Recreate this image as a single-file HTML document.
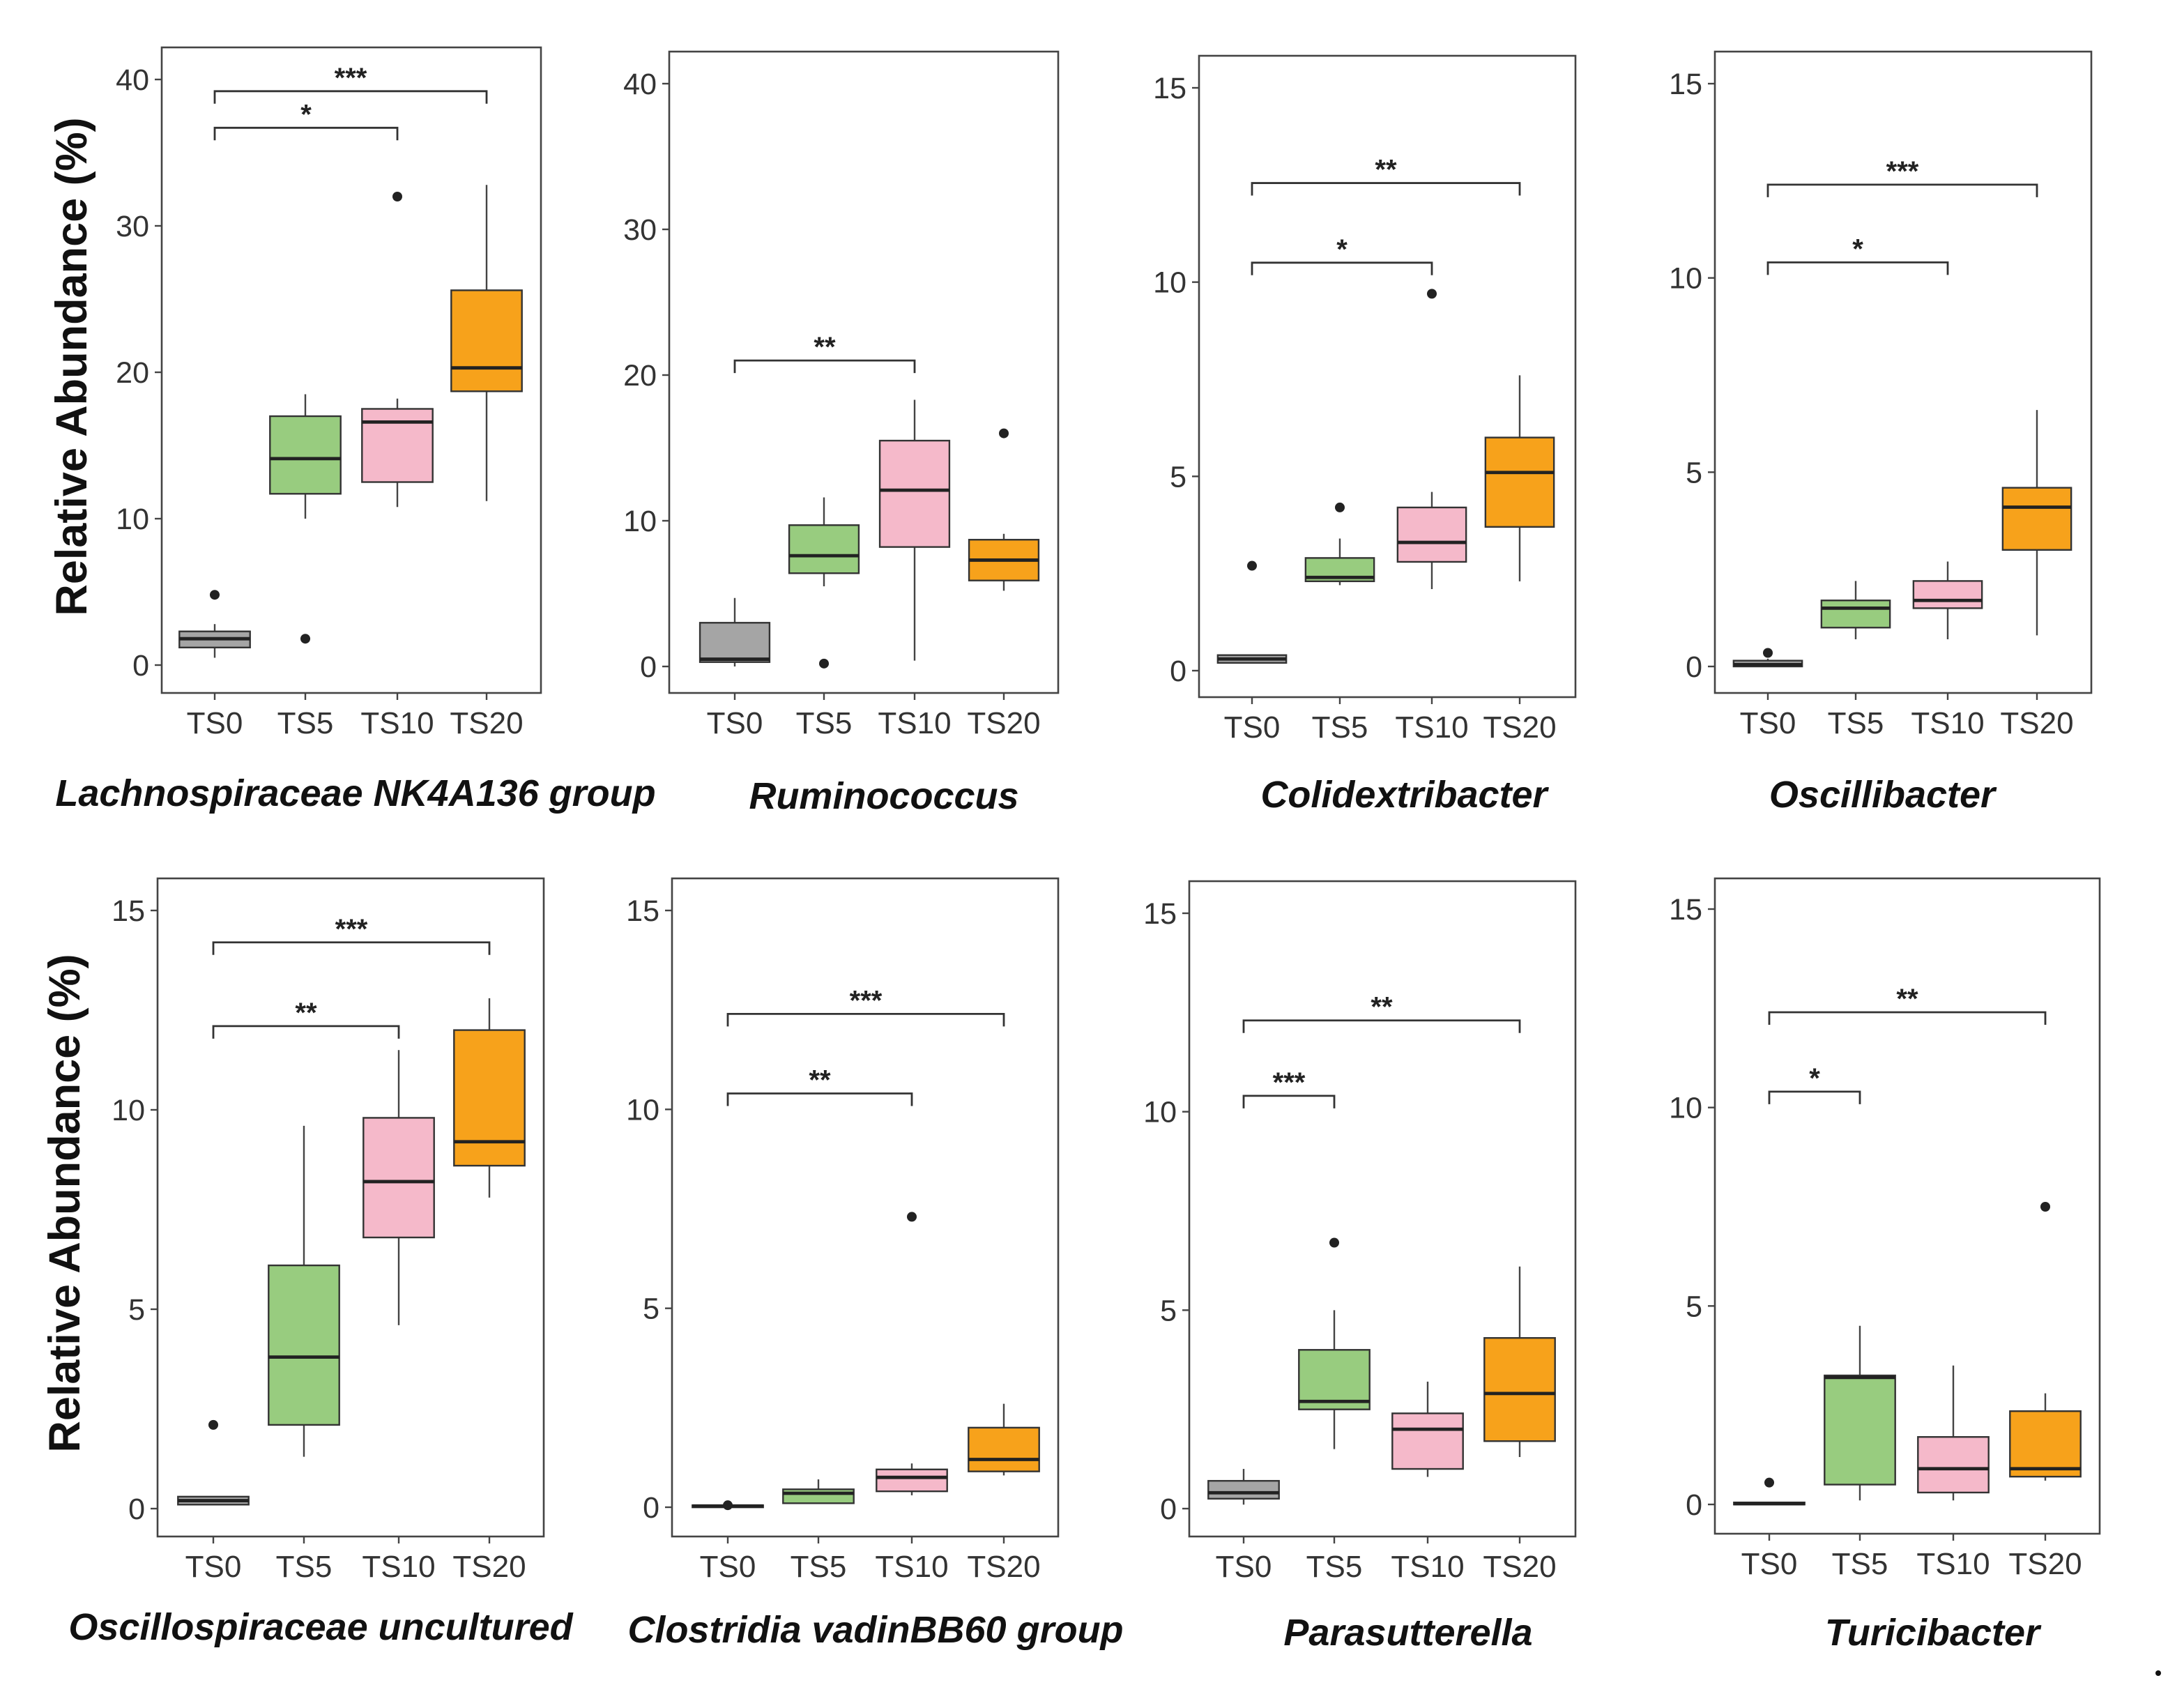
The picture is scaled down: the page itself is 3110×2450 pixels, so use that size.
<!DOCTYPE html>
<html><head><meta charset="utf-8">
<style>
html,body{margin:0;padding:0;background:#fff;}
svg{display:block;}
text{font-family:"Liberation Sans",Arial,sans-serif;}
</style></head>
<body>
<svg id="chart" width="3110" height="2450" viewBox="0 0 1555 1225" xmlns="http://www.w3.org/2000/svg">
<text transform="translate(62,263) rotate(-90)" text-anchor="middle" font-size="31.5" font-weight="bold" fill="#111">Relative Abundance (%)</text>
<text transform="translate(57,863) rotate(-90)" text-anchor="middle" font-size="31.5" font-weight="bold" fill="#111">Relative Abundance (%)</text>
<circle cx="1548" cy="1200" r="2" fill="#111"/>
</svg>
<script>
const categories = ["TS0","TS5","TS10","TS20"];
const panelTitles = ["Lachnospiraceae NK4A136 group","Ruminococcus","Colidextribacter","Oscillibacter","Oscillospiraceae uncultured","Clostridia vadinBB60 group","Parasutterella","Turicibacter"];
const yTickLabels = [[0,10,20,30,40],[0,10,20,30,40],[0,5,10,15],[0,5,10,15],[0,5,10,15],[0,5,10,15],[0,5,10,15],[0,5,10,15]];
const lowWhisker = [[0.5,10,10.8,11.2],[0,5.5,0.4,5.2],[0.2,2.2,2.1,2.3],[0,0.7,0.7,0.8],[0.1,1.3,4.6,7.8],[0,0.1,0.3,0.8],[0.1,1.5,0.8,1.3],[0,0.1,0.1,0.6]];
const q1Values = [[1.2,11.7,12.5,18.7],[0.3,6.4,8.2,5.9],[0.2,2.3,2.8,3.7],[0,1.0,1.5,3.0],[0.1,2.1,6.8,8.6],[0,0.1,0.4,0.9],[0.25,2.5,1.0,1.7],[0,0.5,0.3,0.7]];
const medianValues = [[1.8,14.1,16.6,20.3],[0.5,7.6,12.1,7.3],[0.3,2.4,3.3,5.1],[0.05,1.5,1.7,4.1],[0.2,3.8,8.2,9.2],[0.03,0.35,0.75,1.2],[0.4,2.7,2.0,2.9],[0.02,3.2,0.9,0.9]];
const q3Values = [[2.3,17.0,17.5,25.6],[3.0,9.7,15.5,8.7],[0.4,2.9,4.2,6.0],[0.15,1.7,2.2,4.6],[0.3,6.1,9.8,12.0],[0.05,0.45,0.95,2.0],[0.7,4.0,2.4,4.3],[0.05,3.25,1.7,2.35]];
const highWhisker = [[2.8,18.5,18.2,32.8],[4.7,11.6,18.3,9.1],[0.4,3.4,4.6,7.6],[0.2,2.2,2.7,6.6],[0.3,9.6,11.5,12.8],[0.1,0.7,1.1,2.6],[1.0,5.0,3.2,6.1],[0.05,4.5,3.5,2.8]];
const outlierValues = [[[4.8],[1.8],[32],[]],[[],[0.2],[],[16]],[[2.7],[4.2],[9.7],[]],[[0.35],[],[],[]],[[2.1],[],[],[]],[[0.05],[],[7.3],[]],[[],[6.7],[],[]],[[0.55],[],[],[7.5]]];
// significance brackets: [fromIndex, toIndex, yValue, label]
const sigBrackets = [
 [[0,3,39.2,"***"],[0,2,36.7,"*"]],
 [[0,2,21.0,"**"]],
 [[0,3,12.55,"**"],[0,2,10.5,"*"]],
 [[0,3,12.4,"***"],[0,2,10.4,"*"]],
 [[0,3,14.2,"***"],[0,2,12.1,"**"]],
 [[0,3,12.4,"***"],[0,2,10.4,"**"]],
 [[0,3,12.3,"**"],[0,1,10.4,"***"]],
 [[0,3,12.4,"**"],[0,1,10.4,"*"]]
];
const colors = ["#a5a5a5","#98cc7f","#f5b9ca","#f7a21b"];
const layouts = [
 {l:116,r:388,t:34,b:497,y0:477,yTop:57,xs:[154,219,285,349],tx:255,ty:578},
 {l:480,r:759,t:37,b:497,y0:478,yTop:60,xs:[527,591,656,720],tx:634,ty:580},
 {l:860,r:1130,t:40,b:500,y0:481,yTop:63,xs:[898,961,1027,1090],tx:1007,ty:579},
 {l:1230,r:1500,t:37,b:497,y0:478,yTop:60,xs:[1268,1331,1397,1461],tx:1350,ty:579},
 {l:113,r:390,t:630,b:1102,y0:1082,yTop:653,xs:[153,218,286,351],tx:230,ty:1176},
 {l:482,r:759,t:630,b:1102,y0:1081,yTop:653,xs:[522,587,654,720],tx:628,ty:1178},
 {l:853,r:1130,t:632,b:1102,y0:1082,yTop:655,xs:[892,957,1024,1090],tx:1010,ty:1180},
 {l:1230,r:1506,t:630,b:1100,y0:1079,yTop:652,xs:[1269,1334,1401,1467],tx:1386,ty:1180}
];
const NS="http://www.w3.org/2000/svg";
const svg=document.getElementById('chart');
function mk(tag,attrs,parent){const e=document.createElementNS(NS,tag);for(const k in attrs)e.setAttribute(k,attrs[k]);(parent||svg).appendChild(e);return e;}
layouts.forEach((L,p)=>{
  const g=mk('g',{});
  
  
  const ticks=yTickLabels[p];const maxT=ticks[ticks.length-1];
  const y=v=>L.y0-(v/maxT)*(L.y0-L.yTop);
  const frame=mk('rect',{x:L.l,y:L.t,width:L.r-L.l,height:L.b-L.t,fill:'none',stroke:'#444','stroke-width':1.3},g);
  
  
  ticks.forEach(t=>{
    mk('line',{x1:L.l-5,x2:L.l,y1:y(t),y2:y(t),stroke:'#444','stroke-width':1.2},g);
    const tl=mk('text',{x:L.l-9,y:y(t)+7.5,'text-anchor':'end','font-size':21.5,fill:'#333'},g);
    tl.textContent=t;
    
    
  });
  const step=L.xs[1]-L.xs[0];const bw=step*0.78;
  categories.forEach((c,i)=>{
    const x=L.xs[i];
    mk('line',{x1:x,x2:x,y1:L.b,y2:L.b+5,stroke:'#444','stroke-width':1.2},g);
    const xl=mk('text',{x:x,y:L.b+29,'text-anchor':'middle','font-size':22,fill:'#333'},g);
    xl.textContent=c;
    
    
    const bg=mk('g',{},g);
    
    
    mk('line',{x1:x,x2:x,y1:y(lowWhisker[p][i]),y2:y(highWhisker[p][i]),stroke:'#444','stroke-width':1.2},bg);
    const top=y(q3Values[p][i]),bot=y(q1Values[p][i]);
    mk('rect',{x:x-bw/2,y:top,width:bw,height:Math.max(bot-top,1.5),fill:colors[i],stroke:'#333','stroke-width':1.2},bg);
    mk('line',{x1:x-bw/2,x2:x+bw/2,y1:y(medianValues[p][i]),y2:y(medianValues[p][i]),stroke:'#222','stroke-width':2.4},bg);
    outlierValues[p][i].forEach(o=>{
      const d=mk('circle',{cx:x,cy:y(o),r:3.5,fill:'#222'},bg);
      
      
    });
  });
  sigBrackets[p].forEach(s=>{
    const x1=L.xs[s[0]],x2=L.xs[s[1]],yy=y(s[2]);
    const sg=mk('g',{},g);
    
    
    mk('path',{d:`M${x1},${yy+9}V${yy}H${x2}V${yy+9}`,fill:'none',stroke:'#333','stroke-width':1.4},sg);
    const st=mk('text',{x:(x1+x2)/2,y:yy-3,'text-anchor':'middle','font-size':20,'font-weight':'bold',fill:'#222'},sg);
    st.textContent=s[3];
  });
  const tt=mk('text',{x:L.tx,y:L.ty,'text-anchor':'middle','font-size':27,'font-weight':'bold','font-style':'italic',fill:'#111'},g);
  tt.textContent=panelTitles[p];
  
  
});
</script>
</body></html>
